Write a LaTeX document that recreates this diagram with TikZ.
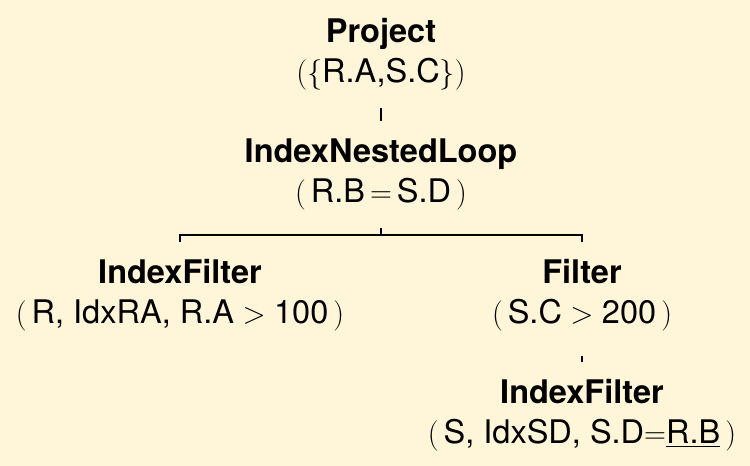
\documentclass[tikz,border=0pt]{standalone}
\usepackage{fontspec}
\setmainfont{TeX Gyre Heros}
\definecolor{paper}{RGB}{255,246,217}

\begin{document}
\begin{tikzpicture}[
  x=0.02cm, y=-0.02cm,
  font=\fontsize{18.5}{22.8}\selectfont,
  op/.style={align=center, inner xsep=0pt, inner ysep=0.34cm},
  link/.style={draw=black, line width=1.4pt}
]

% Paper
\fill[paper] (0,0) rectangle (750,466);
\useasboundingbox (0,0) rectangle (750,466);

% Plan operators
\node[op] (proj) at (381,54.5) {\textbf{Project}\\$(\{$R.A,S.C$\})$};
\node[op] (inl) at (381,174.5)
  {\textbf{IndexNestedLoop}\\$(\,$R.B$\,=\,$S.D$\,)$};
\node[op] (ifr) at (180,295)
  {\textbf{IndexFilter}\\$(\,$R, IdxRA, R.A$\;>\;$100$\,)$};
\node[op] (flt) at (582,295) {\textbf{Filter}\\$(\,$S.C$\;>\;$200$\,)$};
\node[op] (ifs) at (582,415.5)
  {\textbf{IndexFilter}\\$(\,$S, IdxSD, S.D$=$\underline{R.B}$\,)$};

% Tree edges
\coordinate (bus) at (381,235);
\draw[link] (proj) -- (inl);
\draw[link] (inl) -- (inl.south |- bus);
\draw[link] (ifr) |- (bus) -| (flt);
\draw[link, shorten <=0.16cm] (flt) -- (ifs);

\end{tikzpicture}
\end{document}
